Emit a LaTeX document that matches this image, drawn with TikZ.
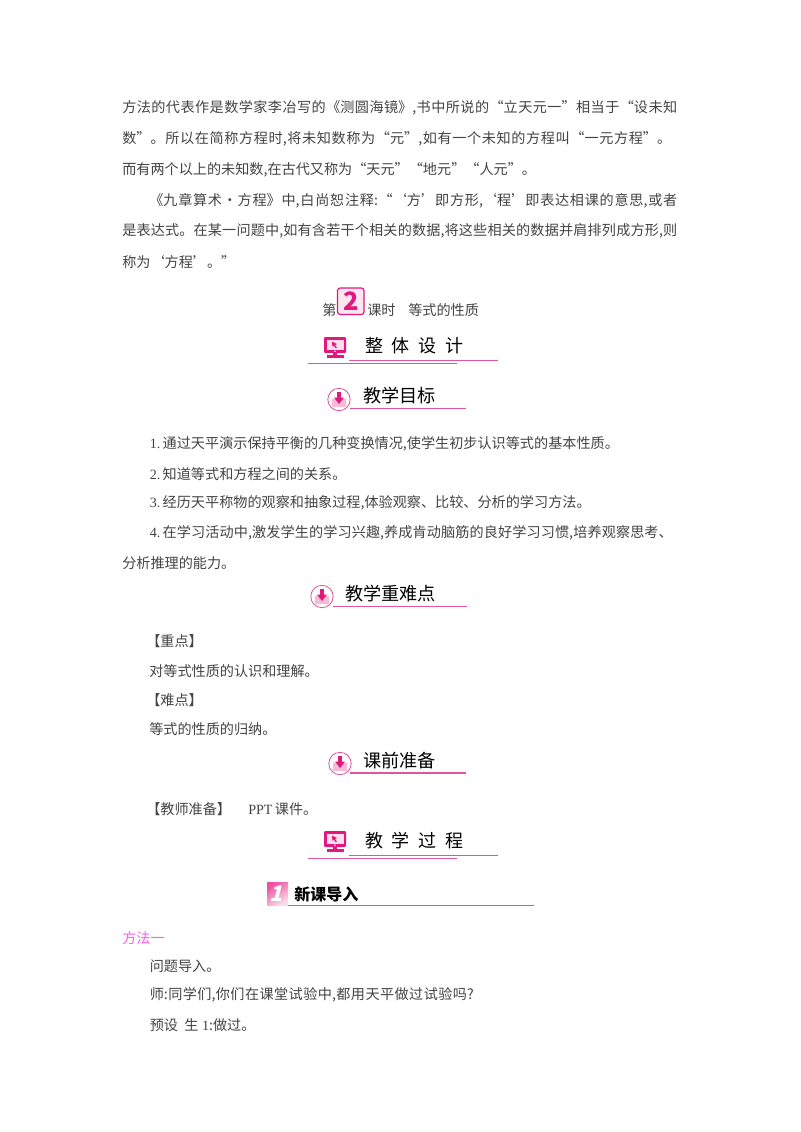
\documentclass[tikz,border=0pt]{standalone}
\usepackage{fontspec}
\setmainfont{Noto Sans CJK SC}
\newfontfamily\latinfont{Liberation Serif}
\newfontfamily\spacedfont[LetterSpace=48]{Noto Sans CJK SC}
\usetikzlibrary{positioning}
\XeTeXlinebreaklocale "zh"
\XeTeXlinebreakskip=0pt plus 2pt
\newlength{\pxunit}
\setlength{\pxunit}{0.75pt}
\definecolor{inkgray}{HTML}{444444}
\definecolor{rosered}{HTML}{E4177F}
\definecolor{roseline}{HTML}{D9589F}
\definecolor{rosepale}{HTML}{F7BBD5}
\definecolor{methodpink}{HTML}{FF5CE6}
\newcommand{\spreadline}[2]{\parbox{#1\pxunit}{\tolerance=9999\hbadness=10000\parfillskip=0pt\relax #2}}
\tikzset{
  bodyline/.style={anchor=west,inner sep=0pt,text=inkgray,font=\fontsize{10.6pt}{12pt}\selectfont},
  headtext/.style={anchor=west,inner sep=0pt,text=black,font=\fontsize{13.6pt}{15pt}\selectfont},
  bighead/.style={anchor=west,inner sep=0pt,text=black,font=\spacedfont\fontsize{13.5pt}{16pt}\selectfont},
  ruleline/.style={draw=roseline,line width=0.6pt},
  screenicon/.pic={
    \fill[rosered,rounded corners=0.8] (0,0) rectangle (22,16);
    \fill[rosepale!45] (2.5,2.5) rectangle (19.5,12.5);
    \fill[rosered] (8,4.5) -- (13,7) -- (11,8) -- (13,10.5) -- (11.5,11) -- (9.8,8.6) -- (8.4,9.6) -- cycle;
    \fill[white] (11,14.2) circle (0.8);
    \fill[rosered] (9,16) rectangle (13,18);
    \fill[rosered] (2.5,18) rectangle (19.5,21);
  },
  downicon/.pic={
    \draw[roseline,fill=white,line width=0.6pt] (0,0) circle (11.2);
    \fill[rosepale] (-7,-1) -- (-3,-1) -- (0,4) -- (3,-1) -- (7,-1) -- (7,7.5) -- (-7,7.5) -- cycle;
    \fill[rosered] (-2.2,-7.5) rectangle (2.2,-1.5);
    \fill[rosered] (-5,-2) -- (5,-2) -- (0,4.5) -- cycle;
  },
}
\begin{document}
\begin{tikzpicture}[x=0.75pt,y=-0.75pt]
\useasboundingbox (0,0) rectangle (800,1132);
\fill[white] (0,0) rectangle (800,1132);
% top paragraph
\node[bodyline] (para1) at (122,108) {\spreadline{555}{方法的代表作是数学家李冶写的《测圆海镜》,书中所说的“立天元一”相当于“设未知}};
\node[bodyline] (para2) at (122,139) {\spreadline{549}{数”。所以在简称方程时,将未知数称为“元”,如有一个未知的方程叫“一元方程”。}};
\node[bodyline] (para3) at (122,170) {而有两个以上的未知数,在古代又称为“天元”“地元”“人元”。};
\node[bodyline] (para4) at (149,201) {\spreadline{528}{《九章算术·方程》中,白尚恕注释:“‘方’即方形,‘程’即表达相课的意思,或者}};
\node[bodyline] (para5) at (122,231) {\spreadline{555}{是表达式。在某一问题中,如有含若干个相关的数据,将这些相关的数据并肩排列成方形,则}};
\node[bodyline] (para6) at (122,262) {称为‘方程’。”};
% lesson title
\node[bodyline] (lessonA) at (322,310) {第};
\draw[rosered,fill=rosepale!35,line width=0.9pt,rounded corners=2] (337.5,288) rectangle (364,314.5);
\node[inner sep=0pt,text=rosered,font=\fontsize{19pt}{19pt}\bfseries\selectfont] (lessonnum) at (351,301) {2};
\node[bodyline] (lessonB) at (367,310) {课时};
\node[bodyline] (lessonC) at (408,310) {等式的性质};
% design heading
\pic at (324,337) {screenicon};
\node[bighead] (design) at (365,346) {整体设计};
\coordinate (designA) at (349,360);
\coordinate (designB) at (498,360);
\coordinate (designC) at (308,363);
\coordinate (designD) at (457,363);
\draw[ruleline] (designA) -- (designB);
\draw[ruleline] (designC) -- (designD);
% goals
\pic at (339,399.5) {downicon};
\node[headtext] (goals) at (363,396) {教学目标};
\coordinate (goalsA) at (350,408);
\coordinate (goalsB) at (466,408);
\draw[ruleline] (goalsA) -- (goalsB);
\node[bodyline] (goal1) at (149.5,444) {{\latinfont 1.}\,通过天平演示保持平衡的几种变换情况,使学生初步认识等式的基本性质。};
\node[bodyline] (goal2) at (149.5,474) {{\latinfont 2.}\,知道等式和方程之间的关系。};
\node[bodyline] (goal3) at (149.5,503) {{\latinfont 3.}\,经历天平称物的观察和抽象过程,体验观察、比较、分析的学习方法。};
\node[bodyline] (goal4) at (149.5,533) {\spreadline{523}{{\latinfont 4.}\,在学习活动中,激发学生的学习兴趣,养成肯动脑筋的良好学习习惯,培养观察思考、}};
\node[bodyline] (goal5) at (122,563) {分析推理的能力。};
% key points
\pic at (322,596.5) {downicon};
\node[headtext] (points) at (345,594) {教学重难点};
\coordinate (pointsA) at (333,606);
\coordinate (pointsB) at (467,606);
\draw[ruleline] (pointsA) -- (pointsB);
\node[bodyline] (key1) at (146,641) {【重点】};
\node[bodyline] (key2) at (149,671) {对等式性质的认识和理解。};
\node[bodyline] (key3) at (146,700) {【难点】};
\node[bodyline] (key4) at (149,729) {等式的性质的归纳。};
% preparation
\pic at (340,763.5) {downicon};
\node[headtext] (prep) at (363,761) {课前准备};
\coordinate (prepA) at (350,773);
\coordinate (prepB) at (466,773);
\draw[ruleline,line width=1pt] (prepA) -- (prepB);
\node[bodyline] (prep1) at (146,809) {【教师准备】};
\node[bodyline] (prep2) at (248,809) {{\latinfont PPT}\,课件。};
% process heading
\pic at (324,831) {screenicon};
\node[bighead] (process) at (365,841) {教学过程};
\coordinate (processA) at (349,855);
\coordinate (processB) at (498,855);
\coordinate (processC) at (308,858);
\coordinate (processD) at (457,858);
\draw[ruleline] (processA) -- (processB);
\draw[ruleline] (processC) -- (processD);
% new lesson
\shade[left color=rosered!75,right color=rosepale!50,shading angle=35] (267,882) rectangle (288,905);
\node[inner sep=0pt,xslant=0.25,text=white,font=\fontsize{16pt}{16pt}\bfseries\selectfont] (newnum) at (277.5,893.5) {1};
\node[anchor=west,inner sep=0pt,text=black,font=\fontsize{12pt}{14pt}\bfseries\selectfont] (newlesson) at (294,894) {新课导入};
\coordinate (newA) at (288,905);
\coordinate (newB) at (534,905);
\draw[ruleline] (newA) -- (newB);
% method
\node[bodyline,text=methodpink] (method) at (122,938) {方法一};
\node[bodyline] (talk1) at (149.5,966) {问题导入。};
\node[bodyline] (talk2) at (149.5,995) {\spreadline{324}{师:同学们,你们在课堂试验中,都用天平做过试验吗?}};
\node[bodyline] (talk3) at (149.5,1025) {预设\ \ 生{\latinfont\ 1}:做过。};
\end{tikzpicture}
\end{document}
